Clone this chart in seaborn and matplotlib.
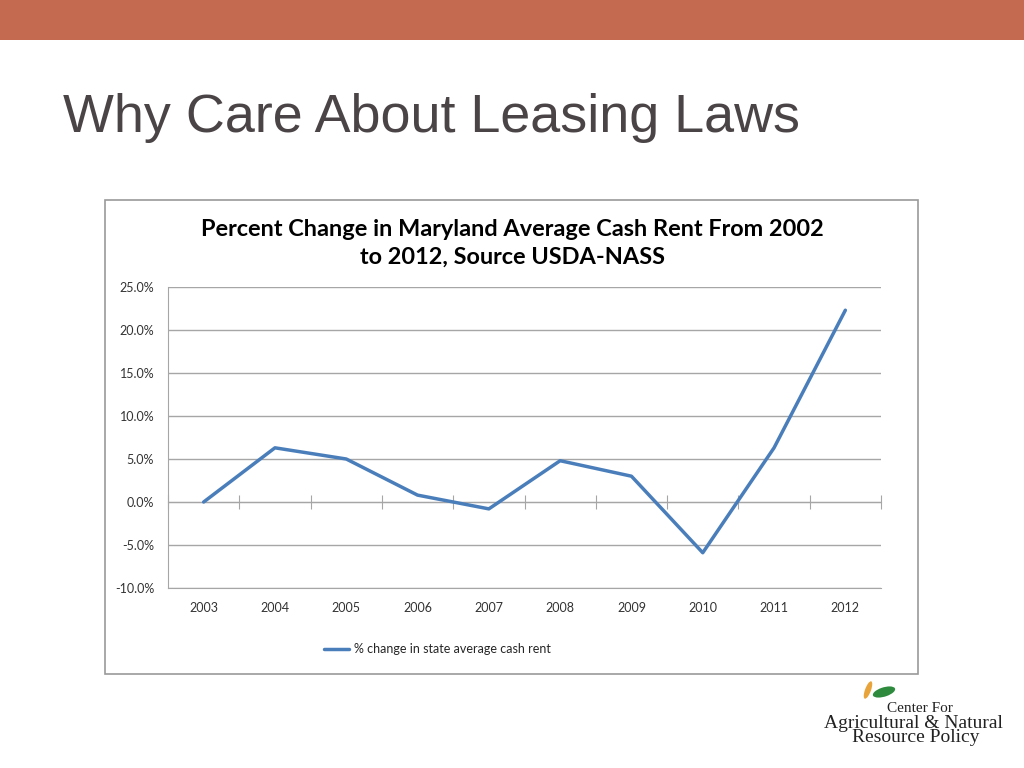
import numpy as np
import pandas as pd
import matplotlib
matplotlib.use("Agg")
import matplotlib.pyplot as plt
import matplotlib.patches as mpatches
from matplotlib.ticker import PercentFormatter
import seaborn as sns

years = ["2003", "2004", "2005", "2006", "2007", "2008", "2009", "2010", "2011", "2012"]
pct_change = [0.0, 6.3, 5.0, 0.8, -0.8, 4.8, 3.0, -5.9, 6.3, 22.3]
series_name = "% change in state average cash rent"
y_ticks = [-10, -5, 0, 5, 10, 15, 20, 25]

df = pd.DataFrame({"year": years, "pct": pct_change})

sns.set_style("white")
plt.rcParams["font.family"] = ["Lato", "DejaVu Sans"]
plt.rcParams["axes.unicode_minus"] = False

fig = plt.figure(figsize=(10.24, 7.68), dpi=100)

# header band and slide title
fig.patches.append(mpatches.Rectangle((0, 1 - 40 / 768), 1, 40 / 768, transform=fig.transFigure,
                                      facecolor="#C46A50", edgecolor="none", zorder=-2))
fig.text(63 / 1024, 1 - 118 / 768, "Why Care About Leasing Laws", fontsize=38.8, color="#4A4446",
         family=["Liberation Sans", "DejaVu Sans"], va="center", ha="left")

# chart frame
fig.patches.append(mpatches.Rectangle((105 / 1024, 1 - 674 / 768), 813 / 1024, 474 / 768,
                                      transform=fig.transFigure, facecolor="white",
                                      edgecolor="#9A9A9A", linewidth=1.2, zorder=-2))
fig.text(512 / 1024, 1 - 243 / 768,
         "Percent Change in Maryland Average Cash Rent From 2002\nto 2012, Source USDA-NASS",
         fontsize=16.9, fontweight="bold", color="black", ha="center", va="center", linespacing=1.4)

ax = fig.add_axes([168 / 1024, 1 - 588 / 768, 713 / 1024, 301 / 768])
ax.patch.set_alpha(0)
sns.lineplot(data=df, x="year", y="pct", ax=ax, color="#4A7EBB", linewidth=2.5,
             label=series_name, sort=False)

ymin, ymax = -10, 25
ax.set_xlim(-0.5, len(years) - 0.5)
ax.set_ylim(ymin, ymax)
ax.set_yticks(y_ticks)
ax.yaxis.set_major_formatter(PercentFormatter(decimals=1))
ax.grid(axis="y", color="#A6A6A6", linewidth=1)
ax.set_axisbelow(True)
for s in ["top", "right"]:
    ax.spines[s].set_visible(False)
ax.spines["bottom"].set_color("#A6A6A6")
ax.spines["left"].set_color("#A6A6A6")
ax.tick_params(axis="y", length=0, labelsize=9, colors="#333333", pad=10)
ax.tick_params(axis="x", length=0, labelsize=9, colors="#333333", pad=10)
ax.set_xlabel("")
ax.set_ylabel("")

# category axis crossing at zero with tick marks between categories
sec = ax.secondary_xaxis((0 - ymin) / (ymax - ymin))
sec.set_xticks(np.arange(-0.5, len(years), 1))
sec.set_xticklabels([])
sec.spines["bottom"].set_color("#A6A6A6")
sec.tick_params(axis="x", direction="inout", length=10, color="#A6A6A6")

ax.legend_.remove()
handles, labels = ax.get_legend_handles_labels()
fig.legend(handles, labels, loc="center left", bbox_to_anchor=(313 / 1024, 1 - 649 / 768),
           frameon=False, fontsize=9, handlelength=2.0, handletextpad=0.4)

# logo
fig.patches.append(mpatches.Ellipse((884 / 1024, 1 - 692 / 768), 24 / 1024, 9 / 768, angle=25,
                                    transform=fig.transFigure, facecolor="#2E8B3E", edgecolor="none"))
fig.patches.append(mpatches.Ellipse((868 / 1024, 1 - 690 / 768), 6 / 1024, 18 / 768, angle=-15,
                                    transform=fig.transFigure, facecolor="#E8A33A", edgecolor="none"))
serif = ["Liberation Serif", "DejaVu Serif"]
fig.text(920 / 1024, 1 - 708 / 768, "Center For", family=serif, fontsize=11, ha="center", va="center", color="#222222")
fig.text(913 / 1024, 1 - 723 / 768, "Agricultural & Natural", family=serif, fontsize=14, ha="center", va="center", color="#222222")
fig.text(916 / 1024, 1 - 738 / 768, "Resource Policy", family=serif, fontsize=14, ha="center", va="center", color="#222222")

fig.savefig("out.png", dpi=100)
